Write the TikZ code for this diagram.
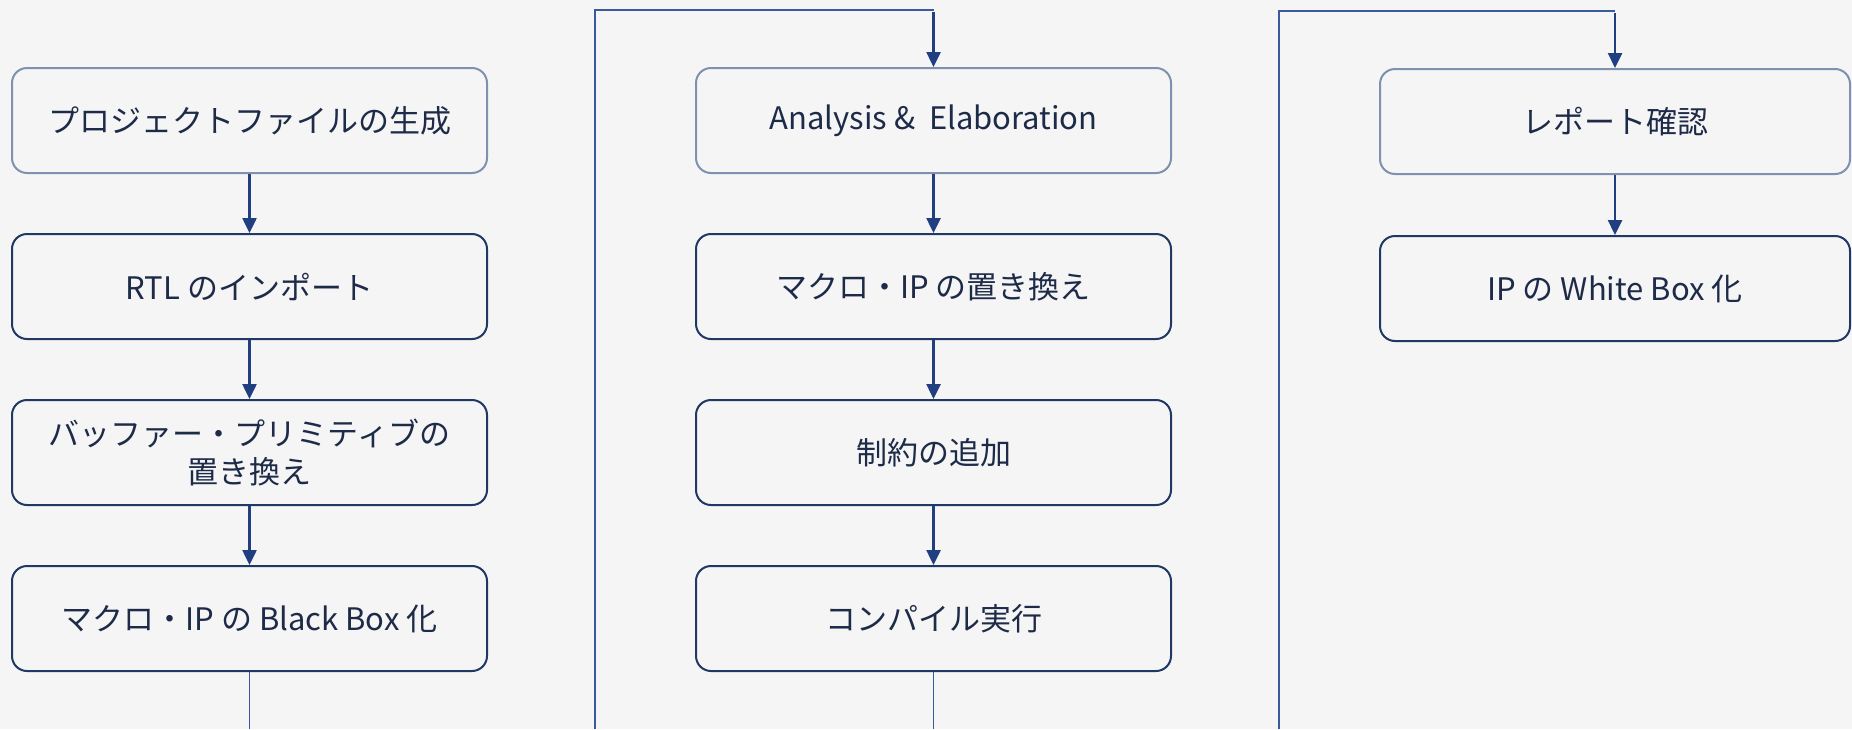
\documentclass[tikz,border=0pt]{standalone}
\usepackage{fontspec}
\setmainfont{Noto Sans CJK JP}
\usetikzlibrary{arrows.meta}
\definecolor{bg}{HTML}{F5F5F5}
\definecolor{navy}{HTML}{1F3864}
\definecolor{lightb}{HTML}{8091B0}
\definecolor{arr}{HTML}{1F3F80}
\definecolor{thinln}{HTML}{3A5AA0}
\definecolor{txt}{HTML}{1E2B48}
\tikzset{
  stepbox/.style={draw=navy, line width=2pt, rounded corners=15pt, minimum width=475pt, minimum height=105pt,
    inner sep=0pt, align=center, text=txt, font=\fontsize{31}{38}\selectfont, fill=bg},
  firstbox/.style={stepbox, draw=lightb},
  flow/.style={draw=arr, line width=2.5pt, -{Triangle[length=15pt,width=14pt]}},
  wrapline/.style={draw=thinln, line width=1.5pt},
}
\begin{document}
\begin{tikzpicture}[x=1pt,y=-1pt]
\fill[bg] (0,0) rectangle (1852,729);
\useasboundingbox (0,0) rectangle (1852,729);
% column 1
\node[firstbox] (a1) at (249.5,120.5) {プロジェクトファイルの生成};
\node[stepbox] (a2) at (249.5,286.5) {RTL のインポート};
\node[stepbox] (a3) at (249.5,452.5) {バッファー・プリミティブの\\置き換え};
\node[stepbox] (a4) at (249.5,618.5) {マクロ・IP の Black Box 化};
% column 2
\node[firstbox] (b1) at (933.5,120.5) {Analysis \&\ \ Elaboration};
\node[stepbox] (b2) at (933.5,286.5) {マクロ・IP の置き換え};
\node[stepbox] (b3) at (933.5,452.5) {制約の追加};
\node[stepbox] (b4) at (933.5,618.5) {コンパイル実行};
% column 3
\node[firstbox, minimum width=470pt] (c1) at (1615,121.5) {レポート確認};
\node[stepbox, minimum width=470pt] (c2) at (1615,288.5) {IP の White Box 化};
% coordinates for wrapping connectors
\coordinate (a4end) at (249.5,729);
\coordinate (b0start) at (595,729);
\coordinate (b0top) at (933.5,10);
\coordinate (b4end) at (933.5,729);
\coordinate (c0start) at (1279,729);
\coordinate (c0top) at (1615,11);
% arrows
\draw[flow] (a1) -- (a2);
\draw[flow] (a2) -- (a3);
\draw[flow] (a3) -- (a4);
\draw[wrapline] (a4) -- (a4end);
\draw[wrapline] (b0start) |- (b0top);
\draw[flow] ([yshift=-2pt]b0top) -- (b1);
\draw[flow] (b1) -- (b2);
\draw[flow] (b2) -- (b3);
\draw[flow] (b3) -- (b4);
\draw[wrapline] (b4) -- (b4end);
\draw[wrapline] (c0start) |- (c0top);
\draw[flow] ([yshift=-2pt]c0top) -- (c1);
\draw[flow] (c1) -- (c2);
\end{tikzpicture}
\end{document}
